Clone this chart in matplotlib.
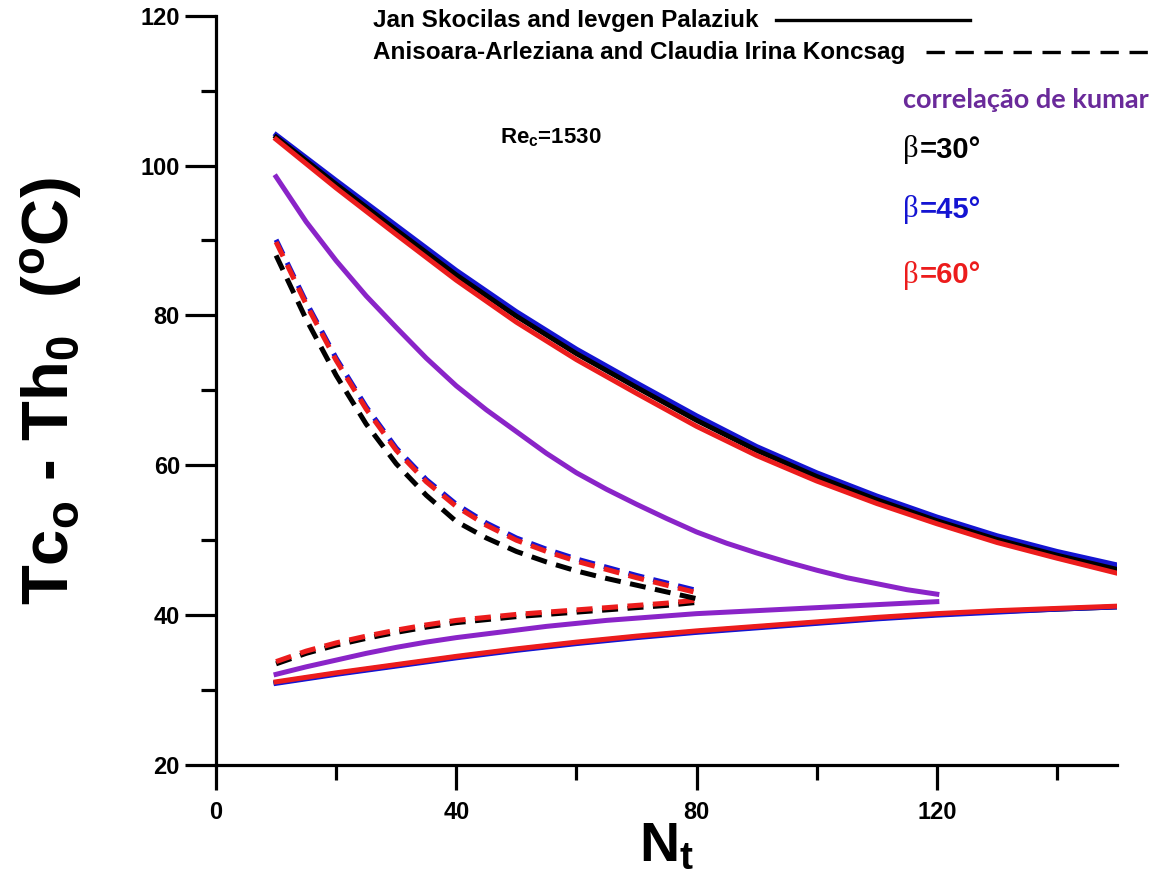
import numpy as np
import matplotlib
matplotlib.use("Agg")
import matplotlib.pyplot as plt
from matplotlib.lines import Line2D
from matplotlib.ticker import MultipleLocator

plt.rcParams["font.family"] = ["Liberation Sans", "DejaVu Sans"]
plt.rcParams["mathtext.fontset"] = "custom"
plt.rcParams["mathtext.rm"] = "Liberation Sans:bold"
plt.rcParams["mathtext.it"] = "Liberation Sans:bold"
plt.rcParams["mathtext.bf"] = "Liberation Sans:bold"

BLACK  = "#000000"
BLUE   = "#1414d2"
RED    = "#ec1c1c"
PURPLE = "#8a24c8"
KUMAR  = "#6a2a9a"

# ── dados ─────────────────────────────────────────────────────────────────────
# Skocilas & Palaziuk (linhas cheias), ramo superior
nt_long = [10, 20, 30, 40, 50, 60, 70, 80, 90, 100, 110, 120, 130, 140, 150]
sk_up_30 = [103.8, 97.5, 91.4, 85.4, 79.9, 74.9, 70.4, 66.0, 62.0, 58.5, 55.4, 52.6, 50.1, 48.0, 46.1]
sk_up_45 = [104.1, 98.0, 92.0, 86.0, 80.5, 75.5, 71.0, 66.6, 62.5, 59.0, 55.9, 53.1, 50.6, 48.5, 46.7]
sk_up_60 = [103.5, 97.0, 90.8, 84.7, 79.1, 74.1, 69.6, 65.2, 61.3, 57.9, 54.9, 52.2, 49.7, 47.6, 45.6]
# ramo inferior
sk_lo_30 = [31.0, 32.2, 33.3, 34.4, 35.4, 36.3, 37.1, 37.8, 38.4, 39.0, 39.6, 40.1, 40.5, 40.8, 41.1]
sk_lo_45 = [30.9, 32.1, 33.2, 34.3, 35.3, 36.2, 37.0, 37.7, 38.3, 38.9, 39.5, 40.0, 40.4, 40.8, 41.1]
sk_lo_60 = [31.1, 32.3, 33.4, 34.5, 35.5, 36.4, 37.2, 37.9, 38.5, 39.1, 39.7, 40.2, 40.6, 40.9, 41.2]

# correlação de Kumar
nt_kumar = [10, 15, 20, 25, 30, 35, 40, 45, 50, 55, 60, 65, 70, 75, 80,
            85, 90, 95, 100, 105, 110, 115, 120]
ku_up = [98.5, 92.5, 87.3, 82.6, 78.4, 74.3, 70.6, 67.4, 64.5, 61.6, 59.0, 56.8,
         54.8, 52.9, 51.1, 49.6, 48.3, 47.1, 46.0, 45.0, 44.2, 43.4, 42.8]
ku_lo = [32.1, 33.1, 34.0, 34.9, 35.7, 36.4, 37.0, 37.5, 38.0, 38.5, 38.9, 39.3,
         39.6, 39.9, 40.2, 40.4, 40.6, 40.8, 41.0, 41.2, 41.4, 41.6, 41.8]

# Koncsag (linhas tracejadas)
nt_short = [10, 15, 20, 25, 30, 35, 40, 45, 50, 55, 60, 65, 70, 75, 80]
ko_up_30 = [88.0, 79.5, 72.0, 65.5, 60.2, 56.0, 52.5, 50.3, 48.5, 47.1, 45.9, 44.9, 44.0, 43.1, 42.2]
ko_up_45 = [90.1, 81.8, 74.3, 67.8, 62.3, 58.1, 54.8, 52.3, 50.3, 48.8, 47.5, 46.4, 45.3, 44.3, 43.3]
ko_up_60 = [89.8, 81.5, 74.0, 67.5, 62.0, 57.8, 54.5, 52.0, 50.0, 48.5, 47.2, 46.1, 45.0, 44.0, 43.0]
ko_lo_30 = [33.5, 34.9, 36.0, 36.9, 37.7, 38.4, 39.0, 39.4, 39.8, 40.1, 40.4, 40.7, 41.0, 41.3, 41.7]
ko_lo_60 = [33.8, 35.2, 36.3, 37.2, 38.0, 38.7, 39.3, 39.7, 40.1, 40.4, 40.7, 41.0, 41.3, 41.6, 42.0]

fig = plt.figure(figsize=(11.62, 8.76), dpi=100, facecolor="white")
ax = fig.add_axes([0.1859, 0.1267, 0.7754, 0.8554])

LW = 3.6
DASH = (3.2, 1.9)

# tracejadas
ax.plot(nt_short, ko_lo_30, color=BLACK, lw=LW, dashes=DASH)
ax.plot(nt_short, ko_lo_60, color=RED, lw=LW, dashes=DASH)
ax.plot(nt_short, ko_up_30, color=BLACK, lw=LW, dashes=DASH)
ax.plot(nt_short, ko_up_45, color=BLUE, lw=LW, dashes=DASH)
ax.plot(nt_short, ko_up_60, color=RED, lw=LW, dashes=DASH)

# Kumar
ax.plot(nt_kumar, ku_up, color=PURPLE, lw=LW)
ax.plot(nt_kumar, ku_lo, color=PURPLE, lw=LW)

# cheias
ax.plot(nt_long, sk_lo_30, color=BLACK, lw=LW)
ax.plot(nt_long, sk_lo_45, color=BLUE, lw=LW)
ax.plot(nt_long, sk_lo_60, color=RED, lw=LW)
ax.plot(nt_long, sk_up_45, color=BLUE, lw=LW)
ax.plot(nt_long, sk_up_30, color=BLACK, lw=LW)
ax.plot(nt_long, sk_up_60, color=RED, lw=LW)

ax.set_xlim(0, 150)
ax.set_ylim(20, 120)
for side in ("top", "right"):
    ax.spines[side].set_visible(False)
for side in ("left", "bottom"):
    ax.spines[side].set_linewidth(2.3)

ax.xaxis.set_major_locator(MultipleLocator(40))
ax.xaxis.set_minor_locator(MultipleLocator(20))
ax.yaxis.set_major_locator(MultipleLocator(20))
ax.yaxis.set_minor_locator(MultipleLocator(10))
ax.tick_params(axis="y", which="major", direction="out", length=22, width=2.3,
               labelsize=17, pad=4)
ax.tick_params(axis="y", which="minor", direction="out", length=11, width=2.3)
ax.tick_params(axis="x", which="major", direction="out", length=18, width=2.3,
               labelsize=17, pad=8)
ax.tick_params(axis="x", which="minor", direction="out", length=11, width=2.3)
for lbl in ax.get_xticklabels() + ax.get_yticklabels():
    lbl.set_fontweight("bold")

ax.set_xlabel(r"N$_\mathregular{t}$", fontsize=40, fontweight="bold", labelpad=-2)
fig.text(0.045, 0.553, r"Tc$_\mathregular{o}$ - Th$_\mathregular{0}$  ($^\mathregular{o}$C)",
         rotation=90, fontsize=47, fontweight="bold", ha="center", va="center")

# legenda manual no topo
W, H = 1162, 876
fig.text(373 / W, 1 - 20 / H, "Jan Skocilas and Ievgen Palaziuk",
         fontsize=17.5, fontweight="bold", va="center", ha="left")
fig.text(373 / W, 1 - 52 / H, "Anisoara-Arleziana and Claudia Irina Koncsag",
         fontsize=17.5, fontweight="bold", va="center", ha="left")
fig.add_artist(Line2D([776 / W, 970 / W], [1 - 20 / H, 1 - 20 / H],
                      color=BLACK, lw=2.4, transform=fig.transFigure))
fig.add_artist(Line2D([926 / W, 1152 / W], [1 - 52 / H, 1 - 52 / H],
                      color=BLACK, lw=2.4, dashes=(5.5, 3.2),
                      transform=fig.transFigure))

fig.text(500 / W, 1 - 138 / H, r"Re$_\mathregular{c}$=1530",
         fontsize=16, fontweight="bold", va="center", ha="left")

fig.text(903 / W, 1 - 100 / H, "correlação de kumar", color=KUMAR,
         fontsize=19.5, fontweight="bold", family="Lato", va="center", ha="left")

for ypx, val, col in [(150, "30", BLACK), (210, "45", BLUE), (275, "60", RED)]:
    fig.text(903 / W, 1 - ypx / H, "β", color=col, fontsize=22,
             family="Liberation Serif", va="center", ha="left")
    fig.text(920 / W, 1 - ypx / H, "=" + val + "°", color=col, fontsize=21,
             fontweight="bold", va="center", ha="left")

fig.savefig("out.png", dpi=100, facecolor="white")
